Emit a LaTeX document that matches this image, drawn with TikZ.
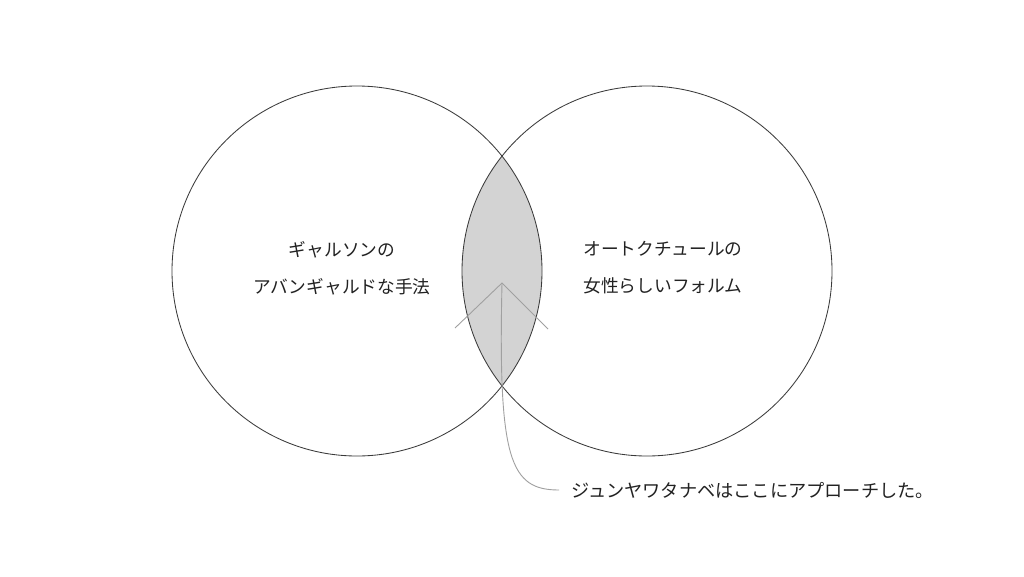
\documentclass[tikz,border=0pt]{standalone}
\usepackage{fontspec}
\newfontfamily\jp{Noto Sans CJK JP}
\definecolor{ringc}{HTML}{3A3A3A}
\definecolor{lensc}{HTML}{D3D3D3}
\definecolor{pointc}{HTML}{A0A0A0}
\definecolor{txtc}{HTML}{222222}
\begin{document}
\begin{tikzpicture}[x=1pt,y=-1pt,
  ring/.style={circle, draw=ringc, line width=0.85pt, minimum size=370pt, inner sep=0pt},
  label/.style={font=\jp\fontsize{17.7}{37}\selectfont, text=txtc, align=center, inner sep=0pt},
  pointer/.style={draw=pointc, line width=0.9pt}]
\useasboundingbox (0,0) rectangle (1024,576);
\fill[white] (0,0) rectangle (1024,576);
% lens
\begin{scope}
  \clip (357,271) circle (185);
  \fill[lensc] (647,271) circle (185);
\end{scope}
\node[ring] (L) at (357,271) {};
\node[ring] (R) at (647,271) {};
\node[label] (lt) at (342,268) {ギャルソンの\\アバンギャルドな手法};
\node[label] (rt) at (663,268) {オートクチュールの\\女性らしいフォルム};
\node[label, anchor=west, font=\jp\fontsize{18.2}{37}\selectfont] (bt) at (571,490) {ジュンヤワタナベはここにアプローチした。};
\coordinate (tip) at (502,283);
\coordinate (armL) at (455,328);
\coordinate (armR) at (548,329);
\coordinate (tail) at (559,490);
\draw[pointer] (armL) -- (tip) -- (armR);
\draw[pointer] (tip) .. controls (498,460) and (510,490) .. (tail);
\end{tikzpicture}
\end{document}
